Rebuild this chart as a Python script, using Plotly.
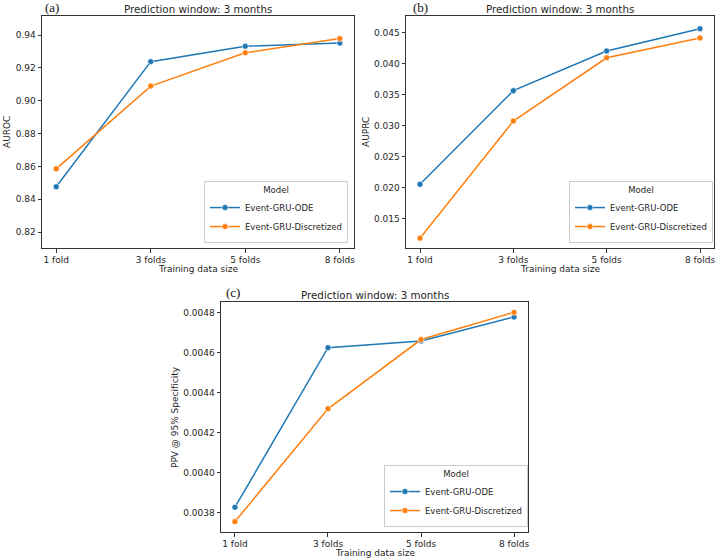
import plotly.graph_objects as go

categories = ["1 fold", "3 folds", "5 folds", "8 folds"]
models = ["Event-GRU-ODE", "Event-GRU-Discretized"]

auroc_ode = [0.8476, 0.9238, 0.9332, 0.9351]
auroc_disc = [0.8585, 0.9089, 0.9292, 0.9379]

auprc_ode = [0.0206, 0.0357, 0.0421, 0.0457]
auprc_disc = [0.0119, 0.0308, 0.0410, 0.0442]

ppv_ode = [0.003827, 0.004626, 0.004660, 0.004780]
ppv_disc = [0.003755, 0.004320, 0.004667, 0.004803]

auroc_ticks = [0.82, 0.84, 0.86, 0.88, 0.90, 0.92, 0.94]
auprc_ticks = [0.015, 0.020, 0.025, 0.030, 0.035, 0.040, 0.045]
ppv_ticks = [0.0038, 0.0040, 0.0042, 0.0044, 0.0046, 0.0048]

colors = ["#1f77b4", "#ff7f0e"]
W, H = 720, 560
FONT = "DejaVu Sans"
TXT = "#262626"
FS = 9

def px(x):
    return x / W

def py(y):
    return 1 - y / H

panels = [
    dict(xd=(42, 354), yd=(16, 248), yr=(0.8103, 0.9516), ticks=auroc_ticks, fmt="%.2f",
         ytitle="AUROC", data=(auroc_ode, auroc_disc), leg=(348, 243), lab=(43, 8), ytx=7),
    dict(xd=(406, 714), yd=(16, 248), yr=(0.01032, 0.04774), ticks=auprc_ticks, fmt="%.3f",
         ytitle="AUPRC", data=(auprc_ode, auprc_disc), leg=(713, 243), lab=(411, 8), ytx=366),
    dict(xd=(221, 528), yd=(302, 532), yr=(0.003703, 0.004855), ticks=ppv_ticks, fmt="%.4f",
         ytitle="PPV @ 95% Specificity", data=(ppv_ode, ppv_disc), leg=(528, 527), lab=(224, 292), ytx=175),
]

fig = go.Figure()
annotations = []
layout = {}
for i, p in enumerate(panels):
    n = "" if i == 0 else str(i + 1)
    xa, ya = "x" + n, "y" + n
    lg = "legend" + n
    for j, m in enumerate(models):
        fig.add_trace(go.Scatter(
            x=categories, y=p["data"][j], mode="lines+markers", name=m,
            line=dict(color=colors[j], width=1.5),
            marker=dict(color=colors[j], size=6, line=dict(color="white", width=0.6)),
            xaxis=xa, yaxis=ya, legend=lg, showlegend=True,
        ))
    axcommon = dict(showline=True, mirror=True, linecolor="#333333", linewidth=1,
                    ticks="outside", ticklen=3.5, tickwidth=0.8, tickcolor="#333333",
                    showgrid=False, zeroline=False,
                    tickfont=dict(family=FONT, size=FS, color=TXT))
    layout["xaxis" + n] = dict(axcommon, domain=[px(p["xd"][0]), px(p["xd"][1])],
                               type="category", range=[-0.15, 3.15], anchor=ya, automargin=False)
    layout["yaxis" + n] = dict(axcommon, domain=[py(p["yd"][1]), py(p["yd"][0])],
                               range=list(p["yr"]), tickvals=p["ticks"],
                               ticktext=[p["fmt"] % t for t in p["ticks"]], anchor=xa, automargin=False)
    layout[lg] = dict(
        x=px(p["leg"][0]), y=py(p["leg"][1]), xanchor="right", yanchor="bottom",
        xref="paper", yref="paper",
        title=dict(text="Model", side="top center", font=dict(family=FONT, size=8.5, color=TXT)),
        font=dict(family=FONT, size=8.5, color=TXT),
        bgcolor="rgba(255,255,255,0.85)", bordercolor="#cccccc", borderwidth=1,
        tracegroupgap=0, itemwidth=30,
    )
    cx = (p["xd"][0] + p["xd"][1]) / 2
    annotations.append(dict(text="Prediction window: 3 months", x=px(cx), y=py(p["yd"][0] - 7),
                            xref="paper", yref="paper", showarrow=False, xanchor="center", yanchor="middle",
                            font=dict(family=FONT, size=10.3, color=TXT)))
    annotations.append(dict(text="Training data size", x=px(cx), y=py(p["yd"][1] + 21),
                            xref="paper", yref="paper", showarrow=False, xanchor="center", yanchor="middle",
                            font=dict(family=FONT, size=FS, color=TXT)))
    annotations.append(dict(text=p["ytitle"], x=px(p["ytx"]), y=py((p["yd"][0] + p["yd"][1]) / 2),
                            xref="paper", yref="paper", showarrow=False, xanchor="center", yanchor="middle",
                            textangle=-90, font=dict(family=FONT, size=FS, color=TXT)))
    annotations.append(dict(text="(" + "abc"[i] + ")", x=px(p["lab"][0]), y=py(p["lab"][1]),
                            xref="paper", yref="paper", showarrow=False, xanchor="left", yanchor="middle",
                            font=dict(family="Liberation Serif", size=13, color="#111111")))

fig.update_layout(
    width=W, height=H, margin=dict(l=0, r=0, t=0, b=0, pad=0, autoexpand=False),
    paper_bgcolor="white", plot_bgcolor="white",
    annotations=annotations, **layout,
)

fig.write_html("out.html", config={"displayModeBar": False},
               post_script="document.body.style.margin='0';document.body.style.overflow='hidden';")
